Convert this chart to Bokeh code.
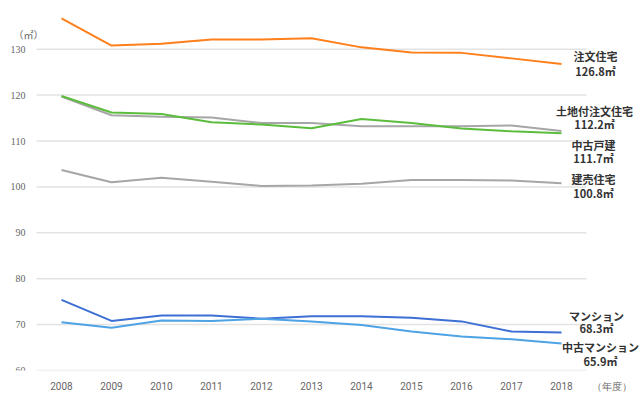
from bokeh.plotting import figure
from bokeh.models import Label, FixedTicker, Range1d
from bokeh.embed import file_html
from bokeh.resources import INLINE

years = list(range(2008, 2019))
chumon = [136.7, 130.8, 131.2, 132.1, 132.1, 132.4, 130.4, 129.3, 129.2, 128.0, 126.8]
tochitsuki = [119.7, 115.6, 115.3, 115.1, 113.9, 113.9, 113.2, 113.2, 113.2, 113.4, 112.2]
chuko_kodate = [119.8, 116.2, 115.9, 114.1, 113.6, 112.8, 114.8, 113.9, 112.7, 112.1, 111.7]
tateuri = [103.7, 101.0, 102.0, 101.1, 100.2, 100.3, 100.7, 101.5, 101.5, 101.4, 100.8]
mansion = [75.4, 70.8, 72.0, 72.0, 71.3, 71.8, 71.8, 71.5, 70.7, 68.5, 68.3]
chuko_mansion = [70.5, 69.3, 70.9, 70.8, 71.3, 70.7, 69.9, 68.5, 67.4, 66.8, 65.9]
y_ticks = [60, 70, 80, 90, 100, 110, 120, 130]
y_tick_labels = [str(v) for v in y_ticks]

series = [
    ("注文住宅", chumon, "#ff7f1a", 8, -7, 34),
    ("土地付注文住宅", tochitsuki, "#a6a6a6", 20, 7, 33),
    ("中古戸建", chuko_kodate, "#5cbc3c", -12, -25, 32),
    ("建売住宅", tateuri, "#a6a6a6", 4, -10, 32),
    ("マンション", mansion, "#3d6fd4", 16, 4, 35),
    ("中古マンション", chuko_mansion, "#4ea3e4", -4, -18, 39),
]

JP = "Noto Sans CJK JP"
W, H = 640, 403
FRAME_H = 370
PX_PER_YEAR = 50.0
PX_PER_UNIT = 4.59
x_start = years[0] - 61 / PX_PER_YEAR
x_end = x_start + W / PX_PER_YEAR
y_end = y_ticks[0] + FRAME_H / PX_PER_UNIT

p = figure(width=W, height=H, output_backend="svg", toolbar_location=None,
           x_range=Range1d(x_start, x_end), y_range=Range1d(y_ticks[0], y_end),
           min_border_left=0, min_border_right=0, min_border_top=0,
           min_border_bottom=H - FRAME_H)
p.outline_line_color = None
p.background_fill_color = "white"
p.border_fill_color = "white"
p.grid.grid_line_color = None
p.yaxis.visible = False

# horizontal gridlines over the plotting span
gx0 = [years[0] - 0.5] * len(y_ticks)
gx1 = [years[-1] + 0.5] * len(y_ticks)
p.segment(x0=gx0, x1=gx1, y0=y_ticks, y1=y_ticks, line_color="#e3e3e3", line_width=1.5)

# y tick labels, right-aligned 11px left of the grid start
lx = [years[0] - 0.5 - 11 / PX_PER_YEAR] * len(y_ticks)
p.text(x=lx, y=y_ticks, text=y_tick_labels, text_align="right",
       text_baseline="middle", text_font="Roboto", text_font_size="10px",
       text_color="#666666")

xt = years + [years[-1] + 1]
p.xaxis.ticker = FixedTicker(ticks=xt)
p.xaxis.major_label_overrides = {years[-1] + 1: "（年度）"}
p.xaxis.axis_line_color = None
p.xaxis.major_tick_line_color = None
p.xaxis.minor_tick_line_color = None
p.xaxis.major_label_text_color = "#666666"
p.xaxis.major_label_text_font = "Roboto"
p.xaxis.major_label_text_font_size = "10px"
p.xaxis.major_label_standoff = 4

for name, vals, color, dy1, dy2, dx in series:
    p.line(years, vals, line_color=color, line_width=2)

for name, vals, color, dy1, dy2, dx in series:
    p.add_layout(Label(x=years[-1], y=vals[-1], x_offset=dx, y_offset=dy1, text=name,
                       text_align="center", text_baseline="middle",
                       text_font=JP, text_font_size="11px", text_font_style="bold",
                       text_color="#333333"))
    p.add_layout(Label(x=years[-1], y=vals[-1], x_offset=dx, y_offset=dy2,
                       text=f"{vals[-1]:.1f}㎡",
                       text_align="center", text_baseline="middle",
                       text_font=JP, text_font_size="11px", text_font_style="bold",
                       text_color="#333333"))

# unit label placed above the top tick
unit_y = y_ticks[-1] + 15 / PX_PER_UNIT
unit_x = x_start + 13 / PX_PER_YEAR
p.add_layout(Label(x=unit_x, y=unit_y, text="（㎡）",
                   text_align="left", text_baseline="middle", text_font=JP,
                   text_font_size="10px", text_color="#666666"))

open("out.html", "w").write(file_html(p, INLINE))
